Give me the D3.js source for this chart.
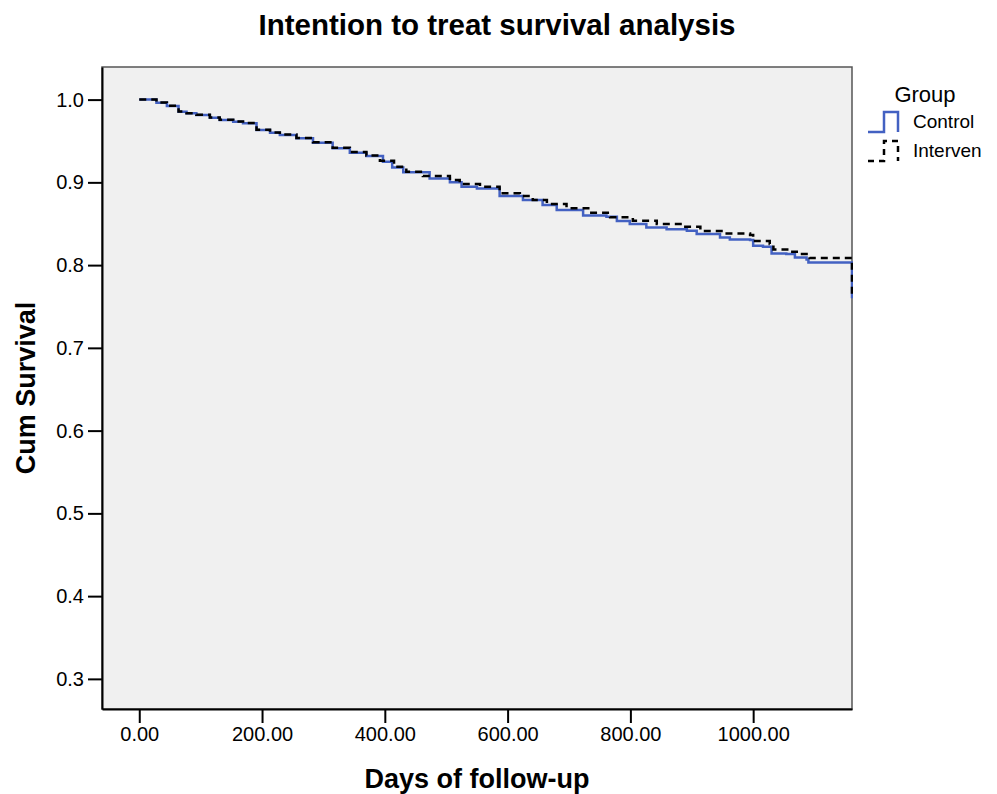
<!DOCTYPE html>
<html>
<head>
<meta charset="utf-8">
<script src="https://cdn.jsdelivr.net/npm/d3@7"></script>
<style>
	body { margin: 0; background: #fff; }
	svg { display: block; font-family: "Liberation Sans", Arial, sans-serif; }
</style>
</head>
<body>
<svg id="chart" width="997" height="794"></svg>
<script>
// survival curve data (days, cumulative survival)
var controlDays = [0, 28, 45, 64, 77, 93, 115, 131, 153, 169, 191, 213, 229, 256, 283, 315, 343, 370, 397, 412, 430, 473, 506, 525, 550, 587, 625, 657, 680, 723, 761, 778, 799, 826, 859, 892, 908, 946, 962, 995, 1000, 1016, 1030, 1054, 1068, 1087, 1090, 1161];
var controlSurv = [1.0, 0.9963, 0.9923, 0.9854, 0.9834, 0.9814, 0.9781, 0.9753, 0.9733, 0.9713, 0.9632, 0.9600, 0.9572, 0.9532, 0.9479, 0.9411, 0.9358, 0.9318, 0.9249, 0.9180, 0.9121, 0.9048, 0.9000, 0.8947, 0.8927, 0.8834, 0.8786, 0.8725, 0.8665, 0.8601, 0.8584, 0.8532, 0.8496, 0.8456, 0.8432, 0.8415, 0.8375, 0.8335, 0.8311, 0.8302, 0.8233, 0.8221, 0.8141, 0.8133, 0.8093, 0.8069, 0.8033, 0.760];

var intervDays = [0, 28, 45, 64, 77, 93, 115, 131, 153, 169, 191, 213, 229, 256, 283, 315, 343, 370, 392, 415, 435, 462, 506, 522, 555, 587, 620, 641, 664, 696, 734, 767, 804, 843, 886, 914, 951, 995, 1000, 1027, 1033, 1060, 1071, 1087, 1092, 1161];
var intervSurv = [1.0, 0.9965, 0.9925, 0.9856, 0.9836, 0.9816, 0.9783, 0.9756, 0.9736, 0.9716, 0.9636, 0.9604, 0.9577, 0.9537, 0.9485, 0.9418, 0.9366, 0.9326, 0.9261, 0.9190, 0.9128, 0.9076, 0.9028, 0.8979, 0.8947, 0.8867, 0.8834, 0.8786, 0.8738, 0.8686, 0.8632, 0.8577, 0.8536, 0.8496, 0.8463, 0.8411, 0.8383, 0.8363, 0.8290, 0.8254, 0.8190, 0.8161, 0.8133, 0.8100, 0.8085, 0.765];

var xTicks = [0, 200, 400, 600, 800, 1000];
var yTicks = [0.3, 0.4, 0.5, 0.6, 0.7, 0.8, 0.9, 1.0];

var groupNames = ["Control", "Interven"];
var groupColors = ["#4361c2", "#000"];

drawChart();

function drawChart() {
	var svg = d3.select("svg");
	var left = 102, right = 852, top = 67, bottom = 709;

	var x = d3.scaleLinear()
		.domain([-60.7, 1161])
		.range([left, right]);
	var y = d3.scaleLinear()
		.domain([0.2636, 1.0394])
		.range([bottom, top]);

	// plot background
	svg.append("rect")
		.attr("x", left)
		.attr("y", top)
		.attr("width", right - left)
		.attr("height", bottom - top)
		.attr("fill", "#f0f0f0")
		.attr("stroke", "#555")
		.attr("stroke-width", 1.5);

	svg.append("clipPath")
		.attr("id", "clip")
		.append("rect")
		.attr("x", left)
		.attr("y", top)
		.attr("width", right - left + 1)
		.attr("height", bottom - top);

	// step lines
	var line = d3.line()
		.x(function(d) { return x(d[0]); })
		.y(function(d) { return y(d[1]); })
		.curve(d3.curveStepAfter);

	var control = controlDays.map(function(d, i) { return [d, controlSurv[i]]; });
	var interv = intervDays.map(function(d, i) { return [d, intervSurv[i]]; });

	svg.append("path")
		.datum(control)
		.attr("clip-path", "url(#clip)")
		.attr("d", line)
		.attr("fill", "none")
		.attr("stroke", groupColors[0])
		.attr("stroke-width", 2.5);

	svg.append("path")
		.datum(interv)
		.attr("clip-path", "url(#clip)")
		.attr("d", line)
		.attr("fill", "none")
		.attr("stroke", groupColors[1])
		.attr("stroke-width", 2.5)
		.attr("stroke-dasharray", "7,5");

	// axes
	var xAxis = svg.append("g")
		.attr("transform", "translate(0," + bottom + ")")
		.call(d3.axisBottom(x).tickValues(xTicks).tickFormat(d3.format(".2f")).tickSize(14).tickPadding(4).tickSizeOuter(0));
	var yAxis = svg.append("g")
		.attr("transform", "translate(" + left + ",0)")
		.call(d3.axisLeft(y).tickValues(yTicks).tickFormat(d3.format(".1f")).tickSize(14).tickPadding(4).tickSizeOuter(0));

	[xAxis, yAxis].forEach(function(a) {
		a.select(".domain").attr("stroke", "#000").attr("stroke-width", 2);
		a.selectAll(".tick line").attr("stroke", "#000").attr("stroke-width", 2);
		a.selectAll("text").attr("fill", "#000").style("font-size", "20px").style("font-family", "Liberation Sans, Arial, sans-serif");
	});

	// titles
	svg.append("text")
		.attr("x", 497)
		.attr("y", 35)
		.attr("text-anchor", "middle")
		.style("font-size", "29.5px")
		.style("font-weight", "bold")
		.text("Intention to treat survival analysis");

	svg.append("text")
		.attr("x", (left + right) / 2)
		.attr("y", 788)
		.attr("text-anchor", "middle")
		.style("font-size", "27px")
		.style("font-weight", "bold")
		.text("Days of follow-up");

	svg.append("text")
		.attr("transform", "translate(35," + ((top + bottom) / 2) + ") rotate(-90)")
		.attr("text-anchor", "middle")
		.style("font-size", "27px")
		.style("font-weight", "bold")
		.text("Cum Survival");

	// legend
	svg.append("text")
		.attr("x", 925)
		.attr("y", 102)
		.attr("text-anchor", "middle")
		.style("font-size", "22px")
		.text("Group");

	groupNames.forEach(function(name, i) {
		var by = 132 + i * 29;
		svg.append("path")
			.attr("d", "M868," + by + "H884V" + (by - 20) + "H898V" + by)
			.attr("fill", "none")
			.attr("stroke", groupColors[i])
			.attr("stroke-width", 2.5)
			.attr("stroke-dasharray", i == 1 ? "6,5" : null);
		svg.append("text")
			.attr("x", 913)
			.attr("y", by - 4)
			.style("font-size", "19px")
			.text(name);
	});
}
</script>
</body>
</html>
